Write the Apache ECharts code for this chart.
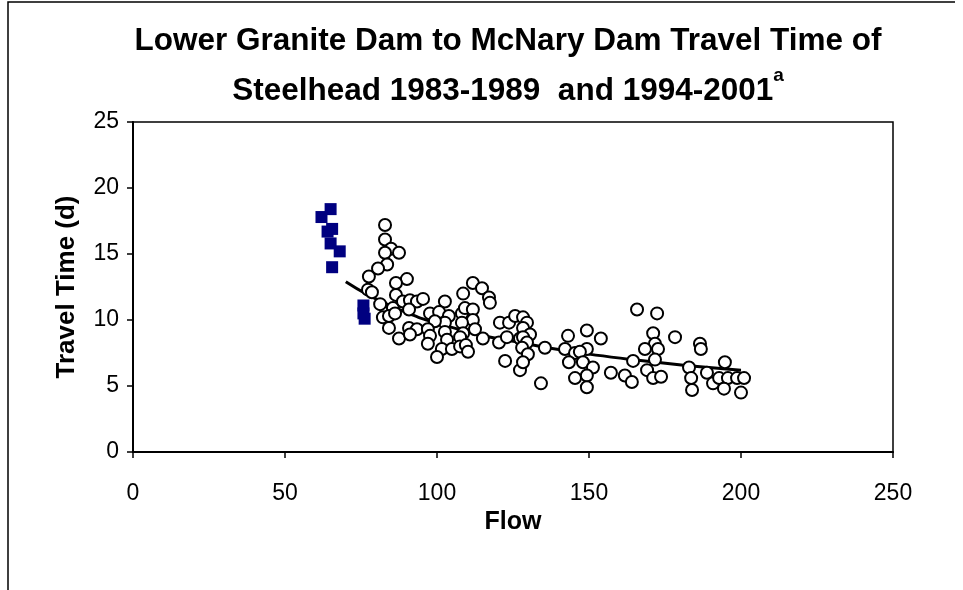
<!DOCTYPE html>
<html>
<head>
<meta charset="utf-8">
<script src="https://cdn.jsdelivr.net/npm/echarts@6/dist/echarts.min.js"></script>
<style>
  html, body { margin: 0; padding: 0; background: #fff; }
  #chart { width: 963px; height: 590px; }
</style>
</head>
<body>
<div id="chart"></div>
<script>
// 数据 - 开始
var xTicks = [0, 50, 100, 150, 200, 250];
var yTicks = [0, 5, 10, 15, 20, 25];

// 蓝色方块 (flow, travel time)
var squarePoints = [
    [62, 17.8], [65, 18.4], [64, 16.7], [65.5, 16.9], [65, 15.8],
    [68, 15.2], [65.5, 14.0], [75.8, 11.1], [75.8, 10.5], [76.2, 10.1]
];

// 空心圆 (flow, travel time)
var circlePoints = [
    [82.9, 17.2], [82.9, 16.1], [84.9, 15.4], [82.9, 15.1], [87.5, 15.1],
    [83.6, 14.2], [80.6, 13.9], [77.6, 13.3], [90.1, 13.1], [86.5, 12.8],
    [77.3, 12.3], [78.6, 12.1], [86.5, 11.9], [81.3, 11.2], [85.5, 10.9],
    [88.8, 11.4], [91.1, 11.5], [93.4, 11.4], [95.4, 11.6], [82.2, 10.2],
    [84.2, 10.3], [86.2, 10.5], [90.8, 10.8], [84.2, 9.4], [87.5, 8.6],
    [90.8, 9.4], [93.4, 9.3], [91.1, 8.9], [102.6, 11.4], [97.7, 10.5],
    [100.7, 10.6], [103.9, 10.3], [108.2, 10.5], [109.2, 10.9], [111.8, 10.8],
    [111.8, 10.0], [108.2, 9.8], [102.6, 9.8], [99.3, 9.9], [97.0, 9.3],
    [102.6, 9.1], [108.6, 9.0], [112.5, 9.3], [97.7, 8.8], [97.0, 8.2],
    [103.3, 8.5], [107.6, 8.7], [101.6, 7.8], [104.9, 7.8], [107.6, 8.0],
    [109.5, 8.1], [110.2, 7.6], [100.0, 7.2], [108.6, 12.0], [111.8, 12.8],
    [114.8, 12.4], [117.1, 11.7], [117.4, 11.3], [115.1, 8.6], [120.4, 8.3],
    [123.0, 8.7], [127.3, 8.6], [120.7, 9.8], [123.7, 9.8], [125.7, 10.3],
    [128.3, 10.2], [129.6, 9.8], [128.3, 9.4], [130.6, 8.9], [128.3, 8.7],
    [129.6, 8.3], [128.0, 7.9], [129.9, 7.4], [122.4, 6.9], [127.3, 6.2],
    [128.3, 6.8], [135.5, 7.9], [134.2, 5.2], [143.1, 8.8], [149.3, 9.2],
    [153.9, 8.6], [142.1, 7.8], [145.4, 7.5], [149.3, 7.8], [147.0, 7.6],
    [143.4, 6.8], [148.0, 6.8], [151.3, 6.4], [145.4, 5.6], [149.3, 5.8],
    [149.3, 4.9], [157.2, 6.0], [161.8, 5.8], [164.1, 5.3], [164.5, 6.9],
    [165.8, 10.8], [172.4, 10.5], [171.1, 9.0], [171.7, 8.2], [168.4, 7.8],
    [172.7, 7.8], [171.7, 7.0], [169.1, 6.2], [171.1, 5.6], [173.7, 5.7],
    [178.3, 8.7], [186.5, 8.2], [186.8, 7.8], [182.9, 6.4], [183.6, 5.6],
    [183.9, 4.7], [188.8, 6.0], [190.8, 5.2], [194.7, 6.8], [192.8, 5.6],
    [195.7, 5.6], [198.7, 5.6], [201.0, 5.6], [194.4, 4.8], [200.0, 4.5]
];

// 趋势线
var trendPoints = [
    [70, 12.9], [84.5, 11.1], [104, 9.5], [127, 8.3], [164, 7.0], [200, 6.2]
];
// 数据 - 结束

var chart = echarts.init(document.getElementById('chart'));

var option = {
    backgroundColor: '#fff',
    animation: false,
    title: {
        text: 'Lower Granite Dam to McNary Dam Travel Time of\nSteelhead 1983-1989  and 1994-2001{sup|a}',
        left: 503,
        top: 11,
        textAlign: 'center',
        textStyle: {
            fontFamily: 'Liberation Sans',
            fontWeight: 'bold',
            fontSize: 31.5,
            color: '#000',
            lineHeight: 50,
            rich: {
                sup: {
                    fontFamily: 'Liberation Sans',
                    fontWeight: 'bold',
                    fontSize: 19,
                    color: '#000',
                    verticalAlign: 'top',
                    lineHeight: 30
                }
            }
        }
    },
    grid: {
        left: 133,
        right: 70,
        top: 122,
        bottom: 138,
        show: true,
        borderColor: '#000',
        borderWidth: 1.5,
        backgroundColor: '#fff'
    },
    xAxis: {
        type: 'value',
        min: xTicks[0],
        max: xTicks[xTicks.length - 1],
        interval: 50,
        name: 'Flow',
        nameLocation: 'middle',
        nameGap: 58,
        nameTextStyle: {
            fontFamily: 'Liberation Sans',
            fontWeight: 'bold',
            fontSize: 25,
            color: '#000'
        },
        splitLine: { show: false },
        axisLine: { lineStyle: { color: '#000', width: 2 } },
        axisTick: { show: true, length: 6, lineStyle: { color: '#000', width: 1.5 } },
        axisLabel: {
            fontFamily: 'Liberation Sans',
            fontSize: 23,
            color: '#000',
            margin: 30
        }
    },
    yAxis: {
        type: 'value',
        min: yTicks[0],
        max: yTicks[yTicks.length - 1],
        interval: 5,
        name: 'Travel Time (d)',
        nameLocation: 'middle',
        nameGap: 53,
        nameRotate: 90,
        nameTextStyle: {
            fontFamily: 'Liberation Sans',
            fontWeight: 'bold',
            fontSize: 26,
            color: '#000'
        },
        splitLine: { show: false },
        axisLine: { show: true, lineStyle: { color: '#000', width: 2 } },
        axisTick: { show: true, length: 6, lineStyle: { color: '#000', width: 1.5 } },
        axisLabel: {
            fontFamily: 'Liberation Sans',
            fontSize: 23,
            color: '#000',
            margin: 14
        }
    },
    graphic: [{
        type: 'polyline',
        shape: { points: [[8, 590], [8, 2], [955, 2]] },
        style: { stroke: '#000', lineWidth: 1.5, fill: null },
        z: 100
    }],
    series: [{
        name: 'trend',
        type: 'line',
        data: trendPoints,
        smooth: true,
        showSymbol: false,
        lineStyle: { color: '#000', width: 3 },
        z: 1
    }, {
        name: 'circles',
        type: 'scatter',
        data: circlePoints,
        symbol: 'circle',
        symbolSize: 12,
        itemStyle: { color: '#fff', borderColor: '#000', borderWidth: 2, opacity: 1 },
        z: 3
    }, {
        name: 'squares',
        type: 'scatter',
        data: squarePoints,
        symbol: 'rect',
        symbolSize: 12,
        itemStyle: { color: '#000080', opacity: 1 },
        z: 4
    }]
};
chart.setOption(option);
</script>
</body>
</html>
